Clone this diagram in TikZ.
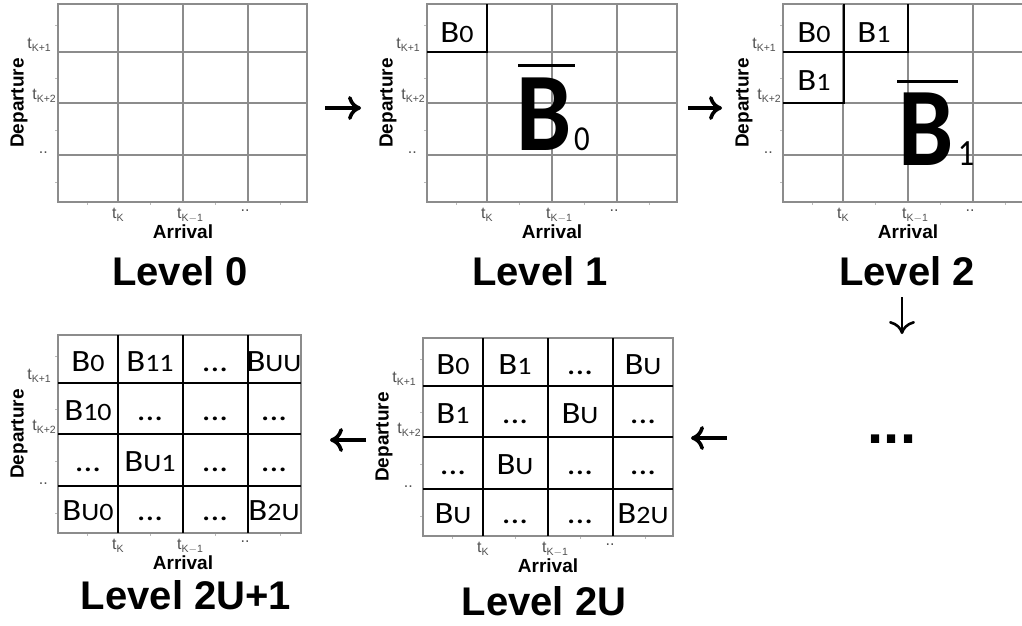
\documentclass[tikz,border=0pt]{standalone}
\usepackage{fontspec}
\setmainfont{Liberation Sans}
\newfontfamily\calibri{Carlito}
\usetikzlibrary{arrows.meta}
\definecolor{gridgray}{HTML}{8C8C8C}
\definecolor{ticktext}{HTML}{505050}
\tikzset{
 gridline/.style={draw=gridgray, line width=1.1pt},
 blockline/.style={draw=black, line width=2.2pt},
 minortick/.style={draw=gridgray!60, line width=0.8pt},
 ticklab/.style={font=\fontsize{16}{16}\selectfont, text=ticktext, inner sep=0pt},
 axislab/.style={font=\bfseries\fontsize{19}{19}\selectfont, inner sep=0pt},
 levellab/.style={font=\bfseries\fontsize{40}{40}\selectfont, inner sep=0pt, anchor=base},
 cell/.style={font=\calibri\fontsize{31}{31}\selectfont, inner sep=0pt, anchor=base, xscale=1.12},
 bigB/.style={font=\calibri\bfseries\fontsize{112}{112}\selectfont, inner sep=0pt, anchor=base west, xscale=0.88},
 overbar/.style={draw=black, line width=3pt},
 flow/.style={line width=3.6pt, -{Computer Modern Rightarrow[length=13pt,width=24pt,line width=3.6pt]}},
 flowthin/.style={line width=2.6pt, -{Computer Modern Rightarrow[length=13pt,width=26pt,line width=2.6pt]}},
}
\newcommand\tsub[1]{t\raisebox{-3pt}{\fontsize{10.5}{10.5}\selectfont #1}}
\newcommand\Bs[1]{B{\fontsize{25}{25}\selectfont #1}}
\newcommand\gridpanel[4]{% x0, y0, width, name
\begin{scope}[shift={(#1,#2)}]
 \foreach \yy in {21,74,126,178} \draw[minortick] (-3,\yy) -- (0,\yy);
 \foreach \xx in {29,92,157,222} \draw[minortick] (\xx,198) -- (\xx,201);
 \draw[gridline] (0,0) rectangle (#3,198);
 \foreach \xx in {60,125,190} \draw[gridline] (\xx,0) -- (\xx,198);
 \foreach \yy in {48,99,151} \draw[gridline] (0,\yy) -- (#3,\yy);
 \node[ticklab, anchor=base east] (#4-t1) at (-7,44) {\tsub{K+1}};
 \node[ticklab, anchor=base east] (#4-t2) at (-2,95) {\tsub{K+2}};
 \node[ticklab, anchor=base east] (#4-t3) at (-10,149) {..};
 \node[ticklab, anchor=base west] (#4-b1) at (54,214) {\tsub{K}};
 \node[ticklab, anchor=base west] (#4-b2) at (119,214) {\tsub{K$-$1}};
 \node[ticklab, anchor=base] (#4-b3) at (187,207) {..};
 \node[axislab, rotate=90] (#4-dep) at (-39,99) {Departure};
 \node[axislab, anchor=base] (#4-arr) at (125,234) {Arrival};
\end{scope}}
\newcommand\thickgrid[3]{% x0,y0,width
\begin{scope}[shift={(#1,#2)}]
 \foreach \xx in {60,125,190} \draw[blockline] (\xx,0) -- (\xx,198);
 \foreach \yy in {48,99,151} \draw[blockline] (0,\yy) -- (#3,\yy);
\end{scope}}
\begin{document}
\begin{tikzpicture}[x=1pt,y=-1pt]
\useasboundingbox (0,0) rectangle (1022,625);
\clip (0,0) rectangle (1022,625);
\fill[white] (0,0) rectangle (1022,625);

% ---- Level 0
\gridpanel{58}{4}{249}{p0}
\node[levellab] (lv0) at (180,285) {Level 0};

% ---- Level 1
\gridpanel{427}{4}{250}{p1}
\draw[blockline] (427,52) -- (487,52) -- (487,4);
\node[cell] (p1c11) at (457,42) {\Bs{0}};
\node[bigB] (p1big) at (516,150) {B\hspace{3pt}{\mdseries\fontsize{35}{35}\selectfont 0}};
\draw[overbar] (518,65) -- (575,65);
\node[levellab] (lv1) at (540,285) {Level 1};

% ---- Level 2
\gridpanel{783}{4}{260}{p2}
\draw[blockline] (783,103) -- (844,103) -- (844,4);
\draw[blockline] (783,52) -- (908,52) -- (908,4);
\node[cell] (p2c11) at (814,42) {\Bs{0}};
\node[cell] (p2c12) at (874,42) {\Bs{1}};
\node[cell] (p2c21) at (814,90) {\Bs{1}};
\node[bigB] (p2big) at (898,165) {B\hspace{5pt}{\mdseries\fontsize{37}{37}\selectfont 1}};
\draw[overbar] (897,81) -- (958,81);
\node[levellab] (lv2) at (907,285) {Level 2};

% ---- Level 2U
\gridpanel{423}{338}{250}{p4}
\thickgrid{423}{338}{250}
\begin{scope}[shift={(423,338)}]
 \node[cell] (p4c11) at (30,36) {\Bs{0}};
 \node[cell] (p4c12) at (92,36) {\Bs{1}};
 \node[cell] (p4c13) at (157,36) {...};
 \node[cell] (p4c14) at (220,36) {\Bs{U}};
 \node[cell] (p4c21) at (30,85) {\Bs{1}};
 \node[cell] (p4c22) at (92,85) {...};
 \node[cell] (p4c23) at (157,85) {\Bs{U}};
 \node[cell] (p4c24) at (220,85) {...};
 \node[cell] (p4c31) at (30,136) {...};
 \node[cell] (p4c32) at (92,136) {\Bs{U}};
 \node[cell] (p4c33) at (157,136) {...};
 \node[cell] (p4c34) at (220,136) {...};
 \node[cell] (p4c41) at (30,185) {\Bs{U}};
 \node[cell] (p4c42) at (92,185) {...};
 \node[cell] (p4c43) at (157,185) {...};
 \node[cell] (p4c44) at (220,185) {\Bs{2U}};
\end{scope}
\node[levellab] (lv4) at (544,615) {Level 2U};

% ---- Level 2U+1
\gridpanel{58}{335}{243}{p5}
\thickgrid{58}{335}{243}
\begin{scope}[shift={(58,335)}]
 \node[cell] (p5c11) at (30,36) {\Bs{0}};
 \node[cell] (p5c12) at (92,36) {\Bs{11}};
 \node[cell] (p5c13) at (157,36) {...};
 \node[cell] (p5c14) at (216,36) {\Bs{UU}};
 \node[cell] (p5c21) at (30,85) {\Bs{10}};
 \node[cell] (p5c22) at (92,85) {...};
 \node[cell] (p5c23) at (157,85) {...};
 \node[cell] (p5c24) at (216,85) {...};
 \node[cell] (p5c31) at (30,136) {...};
 \node[cell] (p5c32) at (92,136) {\Bs{U1}};
 \node[cell] (p5c33) at (157,136) {...};
 \node[cell] (p5c34) at (216,136) {...};
 \node[cell] (p5c41) at (30,185) {\Bs{U0}};
 \node[cell] (p5c42) at (92,185) {...};
 \node[cell] (p5c43) at (157,185) {...};
 \node[cell] (p5c44) at (216,185) {\Bs{2U}};
\end{scope}
\node[levellab] (lv5) at (186,609) {Level 2U+1};

% ---- dots
\node[font=\bfseries\fontsize{58}{58}\selectfont, inner sep=0pt, anchor=base] (dots) at (892,443) {...};

% ---- arrows
\coordinate (a1s) at (325,108); \coordinate (a1e) at (361,108);
\coordinate (a2s) at (688,108); \coordinate (a2e) at (722,108);
\coordinate (a3s) at (902,297); \coordinate (a3e) at (902,334);
\coordinate (a4s) at (727,438); \coordinate (a4e) at (691,438);
\coordinate (a5s) at (366,440); \coordinate (a5e) at (330,440);
\draw[flow] (a1s) -- (a1e);
\draw[flow] (a2s) -- (a2e);
\draw[flowthin] (a3s) -- (a3e);
\draw[flow] (a4s) -- (a4e);
\draw[flow] (a5s) -- (a5e);
\end{tikzpicture}
\end{document}
